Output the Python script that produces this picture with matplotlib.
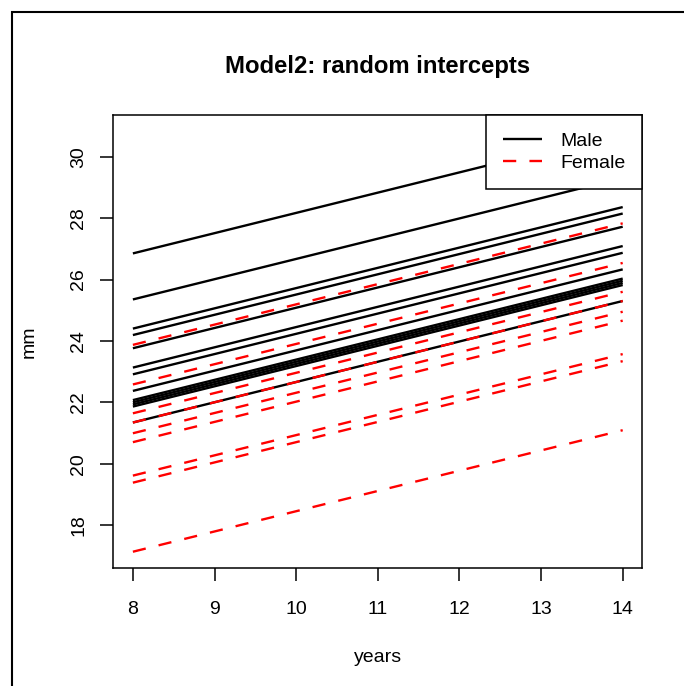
import matplotlib
matplotlib.use("Agg")
import matplotlib.pyplot as plt
from matplotlib.patches import Rectangle

plt.rcParams['font.family'] = ['Liberation Sans', 'DejaVu Sans']

# Fitted lines (random intercepts): value at age 8 and at age 14
ages = [8, 14]
male_start = [26.85, 25.35, 24.40, 24.19, 23.76, 23.13, 22.91, 22.37, 22.07, 22.00, 21.93, 21.86, 21.34]
male_end   = [30.81, 29.31, 28.36, 28.15, 27.72, 27.09, 26.87, 26.33, 26.03, 25.96, 25.89, 25.82, 25.30]
female_start = [23.87, 22.58, 21.64, 21.34, 20.99, 20.70, 19.61, 19.38, 17.13]
female_end   = [27.83, 26.54, 25.60, 25.30, 24.95, 24.66, 23.57, 23.34, 21.09]

xticks = [8, 9, 10, 11, 12, 13, 14]
yticks = [18, 20, 22, 24, 26, 28, 30]
title = "Model2: random intercepts"
xlabel = "years"
ylabel = "mm"
legend_labels = ["Male", "Female"]

W, H = 684, 686
dpi = 100
fig = plt.figure(figsize=(W / dpi, H / dpi), dpi=dpi)

ax = fig.add_axes([113.3 / W, 1 - 568.3 / H, (642.3 - 113.3) / W, (568.3 - 115) / H])

lw = 1.7
dash = (0, (5.6, 5.6))
hm = hf = None
for s, e in zip(male_start, male_end):
    hm, = ax.plot(ages, [s, e], color='black', lw=lw, solid_capstyle='butt')
for s, e in zip(female_start, female_end):
    hf, = ax.plot(ages, [s, e], color='#FF0000', lw=lw, linestyle=dash)

ax.set_xlim(7.76, 14.24)
ax.set_ylim(16.59, 31.36)
ax.set_xticks(xticks)
ax.set_xticklabels([str(t) for t in xticks])
ax.set_yticks(yticks)
ax.set_yticklabels([str(t) for t in yticks])
for sp in ax.spines.values():
    sp.set_linewidth(1.1)
ax.tick_params(axis='both', length=9.7, width=1.1, labelsize=14, color='black')
ax.tick_params(axis='x', pad=13.5)
ax.tick_params(axis='y', pad=9.0, labelrotation=90)
for lab in ax.get_yticklabels():
    lab.set_verticalalignment('center')

leg = ax.legend([hm, hf], legend_labels, loc='upper right', borderaxespad=0,
                fancybox=False, framealpha=1, edgecolor='black', fontsize=14,
                handlelength=2.0, handletextpad=0.94, borderpad=0.87,
                labelspacing=0.25)
leg.get_frame().set_linewidth(1.1)
leg.set_zorder(10)

fig.text(377.7 / W, 1 - 67 / H, title, ha='center', va='center',
         fontsize=17.2, fontweight='bold')
fig.text(377.7 / W, 1 - 658 / H, xlabel, ha='center', va='center', fontsize=14)
fig.text(29 / W, 1 - 341.7 / H, ylabel, ha='center', va='center', fontsize=14,
         rotation=90)

# outer figure border (left and top visible)
fig.patches.append(Rectangle((12 / W, -0.5), 2.0, (1 - 12 / H) + 0.5,
                             transform=fig.transFigure, fill=False,
                             edgecolor='black', linewidth=1.5))

fig.savefig("out.png", dpi=dpi)
